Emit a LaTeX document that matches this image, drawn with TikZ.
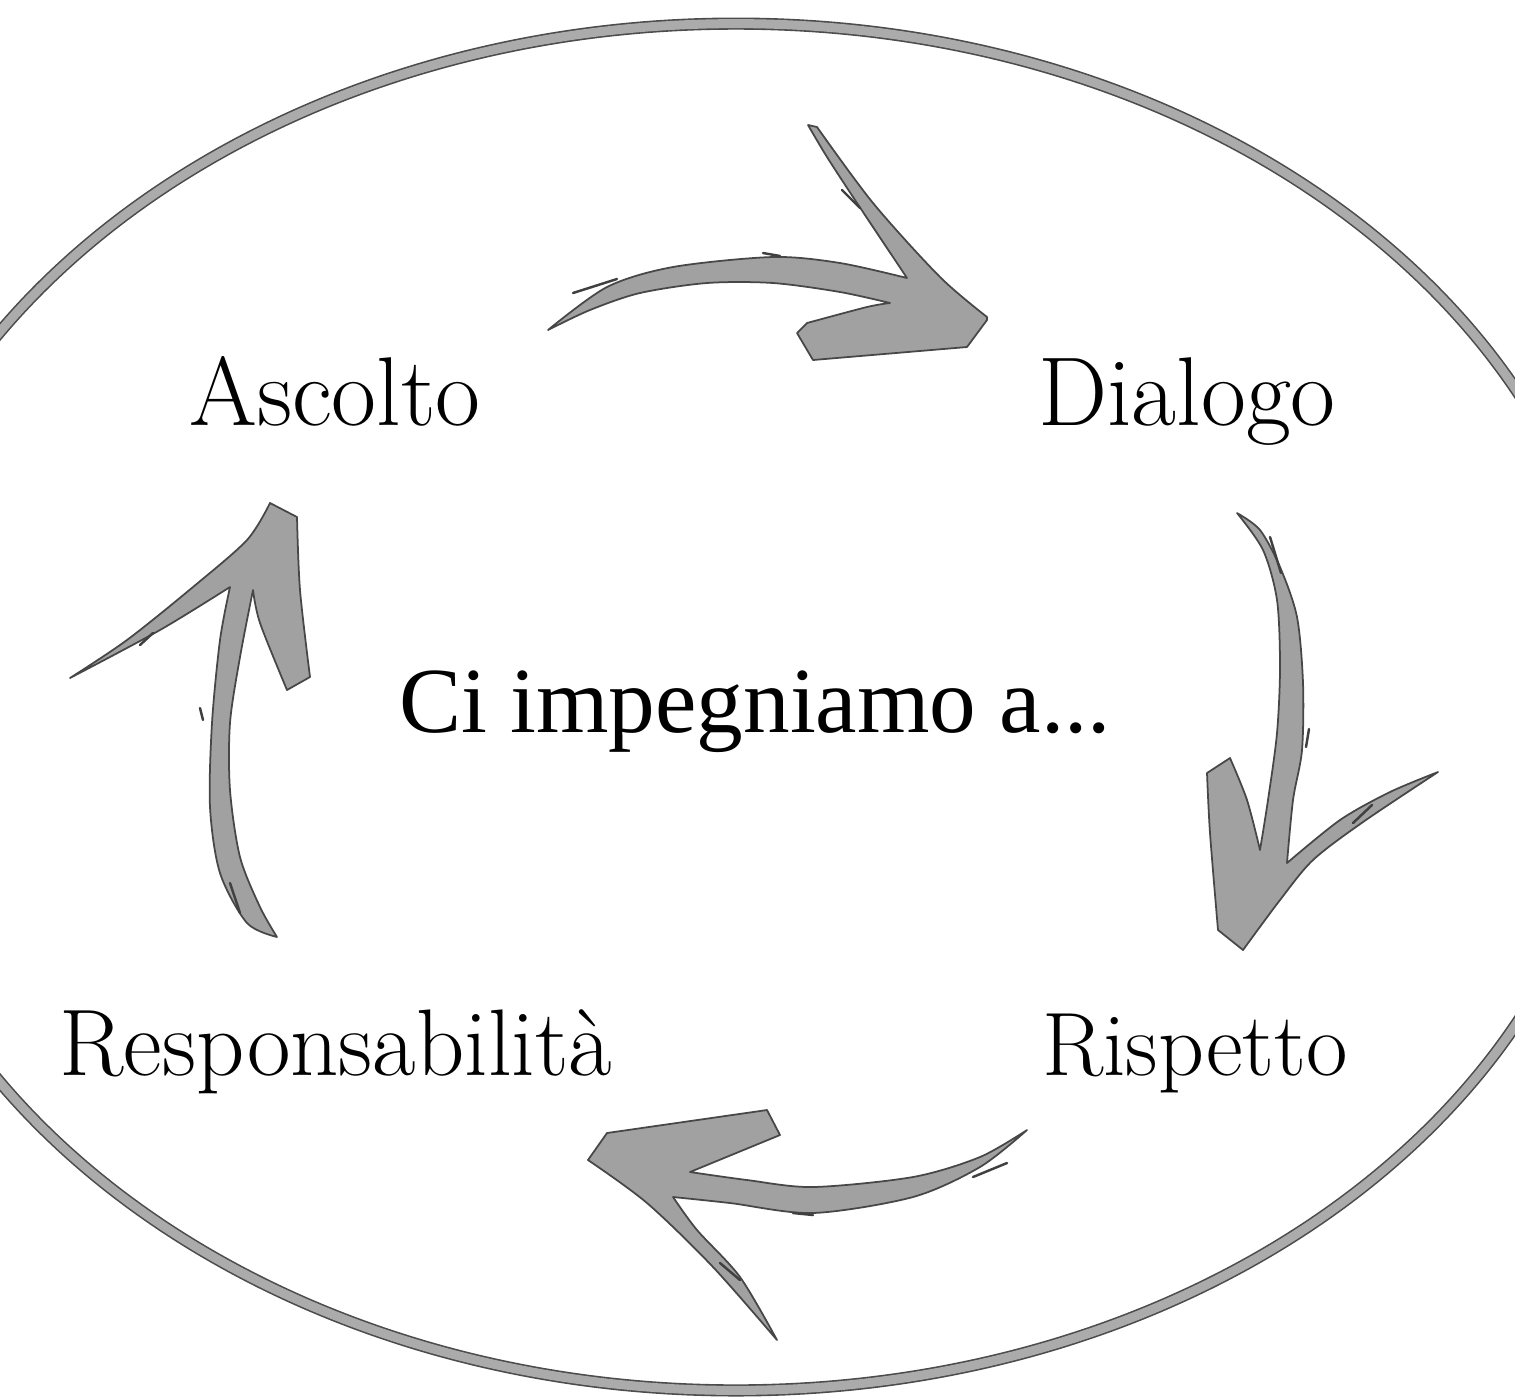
\documentclass[tikz,border=0pt]{standalone}
\usepackage{fontspec}
\newfontfamily\timesf{Liberation Serif}
\begin{document}
\begin{tikzpicture}[x=0.01cm,y=-0.01cm,
  brush/.style={fill=black!37, draw=black!72, line width=0.5pt, line join=round},
  scratch/.style={draw=black!75, line width=0.7pt, line cap=round},
  word/.style={inner sep=0pt, anchor=base},
  centre/.style={inner sep=0pt, anchor=base, font=\timesf\fontsize{26.5}{32}\selectfont},
  ring/.style={draw=black!70, double=black!33, double distance=0.09cm, line width=0.016cm}]
\useasboundingbox (0,0) rectangle (1515,1399);
\begin{scope}
\clip (0,0) rectangle (1515,1399);
\draw[ring] (736,707) ellipse [x radius=8.80cm, y radius=6.83cm];
\end{scope}

\node[word, font=\fontsize{27.8}{32}\selectfont] (ascolto) at (335,425) {Ascolto};
\node[word, font=\fontsize{27.8}{32}\selectfont] (dialogo) at (1187,425) {Dialogo};
\node[word, font=\fontsize{25.6}{30}\selectfont] (rispetto) at (1195,1075) {Rispetto};
\node[word, font=\fontsize{26.9}{31}\selectfont] (resp) at (336,1075) {Responsabilità};
\node[centre] (ci) at (755,732) {Ci impegniamo a...};

% top arrow: Ascolto -> Dialogo
\filldraw[brush] (548,330)
 -- plot[smooth] coordinates {(548,330) (607,287) (673,267) (773,257) (840,263) (907,278)}
 -- plot[smooth] coordinates {(907,278) (857,203) (827,157) (808,125)}
 -- plot[smooth] coordinates {(817,127) (873,203) (940,277) (987,317)}
 -- (987,320) -- (967,347) -- (813,360) -- (797,333) -- (807,323)
 -- plot[smooth] coordinates {(807,323) (867,307) (890,303)}
 -- plot[smooth] coordinates {(890,303) (840,292) (773,283) (707,283) (640,293) (590,310) (548,330)}
 -- cycle;
\draw[scratch] (573,293) -- (617,279);
\draw[scratch] (763,253) -- (780,256);
\draw[scratch] (842,190) -- (860,208);

% right arrow: Dialogo -> Rispetto
\filldraw[brush] (1237,513)
 -- plot[smooth] coordinates {(1237,513) (1263,550) (1277,600) (1280,667) (1277,733) (1268,800) (1260,850)}
 -- plot[smooth] coordinates {(1260,850) (1247,800) (1230,758)}
 -- (1207,773)
 -- plot[smooth] coordinates {(1207,773) (1210,833) (1218,930)}
 -- (1243,950)
 -- plot[smooth] coordinates {(1243,950) (1280,900) (1313,860) (1363,822) (1438,772)}
 -- plot[smooth] coordinates {(1438,772) (1390,792) (1340,820) (1287,863)}
 -- plot[smooth] coordinates {(1287,863) (1293,800) (1302,750) (1303,683) (1297,617) (1280,567) (1260,530) (1237,513)}
 -- cycle;
\draw[scratch] (1270,537) -- (1281,573);
\draw[scratch] (1309,729) -- (1306,747);
\draw[scratch] (1353,823) -- (1372,805);

% bottom arrow: Rispetto -> Responsabilita
\filldraw[brush] (767,1110) -- (607,1133) -- (588,1160)
 -- plot[smooth] coordinates {(588,1160) (647,1203) (713,1267) (777,1340)}
 -- plot[smooth] coordinates {(777,1340) (740,1277) (697,1230) (673,1197)}
 -- plot[smooth] coordinates {(673,1197) (730,1203) (813,1213) (913,1197) (980,1167) (1027,1130)}
 -- plot[smooth] coordinates {(1027,1130) (980,1157) (913,1177) (813,1187) (747,1180) (690,1172)}
 -- (780,1135) -- cycle;
\draw[scratch] (1007,1163) -- (973,1177);
\draw[scratch] (793,1213) -- (813,1215);
\draw[scratch] (720,1263) -- (740,1280);

% left arrow: Responsabilita -> Ascolto
\filldraw[brush] (270,503) -- (297,517)
 -- plot[smooth] coordinates {(297,517) (300,590) (310,677)}
 -- (287,690)
 -- plot[smooth] coordinates {(287,690) (260,623) (253,590)}
 -- plot[smooth] coordinates {(253,590) (240,657) (230,723) (230,790) (240,857) (260,907) (277,937)}
 -- plot[smooth] coordinates {(277,937) (247,923) (220,873) (210,807) (212,723) (220,640) (230,587)}
 -- plot[smooth] coordinates {(230,587) (160,630) (70,678)}
 -- plot[smooth] coordinates {(70,678) (127,640) (193,587) (247,540) (270,503)}
 -- cycle;
\draw[scratch] (140,645) -- (153,633);
\draw[scratch] (203,720) -- (200,708);
\draw[scratch] (240,913) -- (230,883);
\end{tikzpicture}
\end{document}
